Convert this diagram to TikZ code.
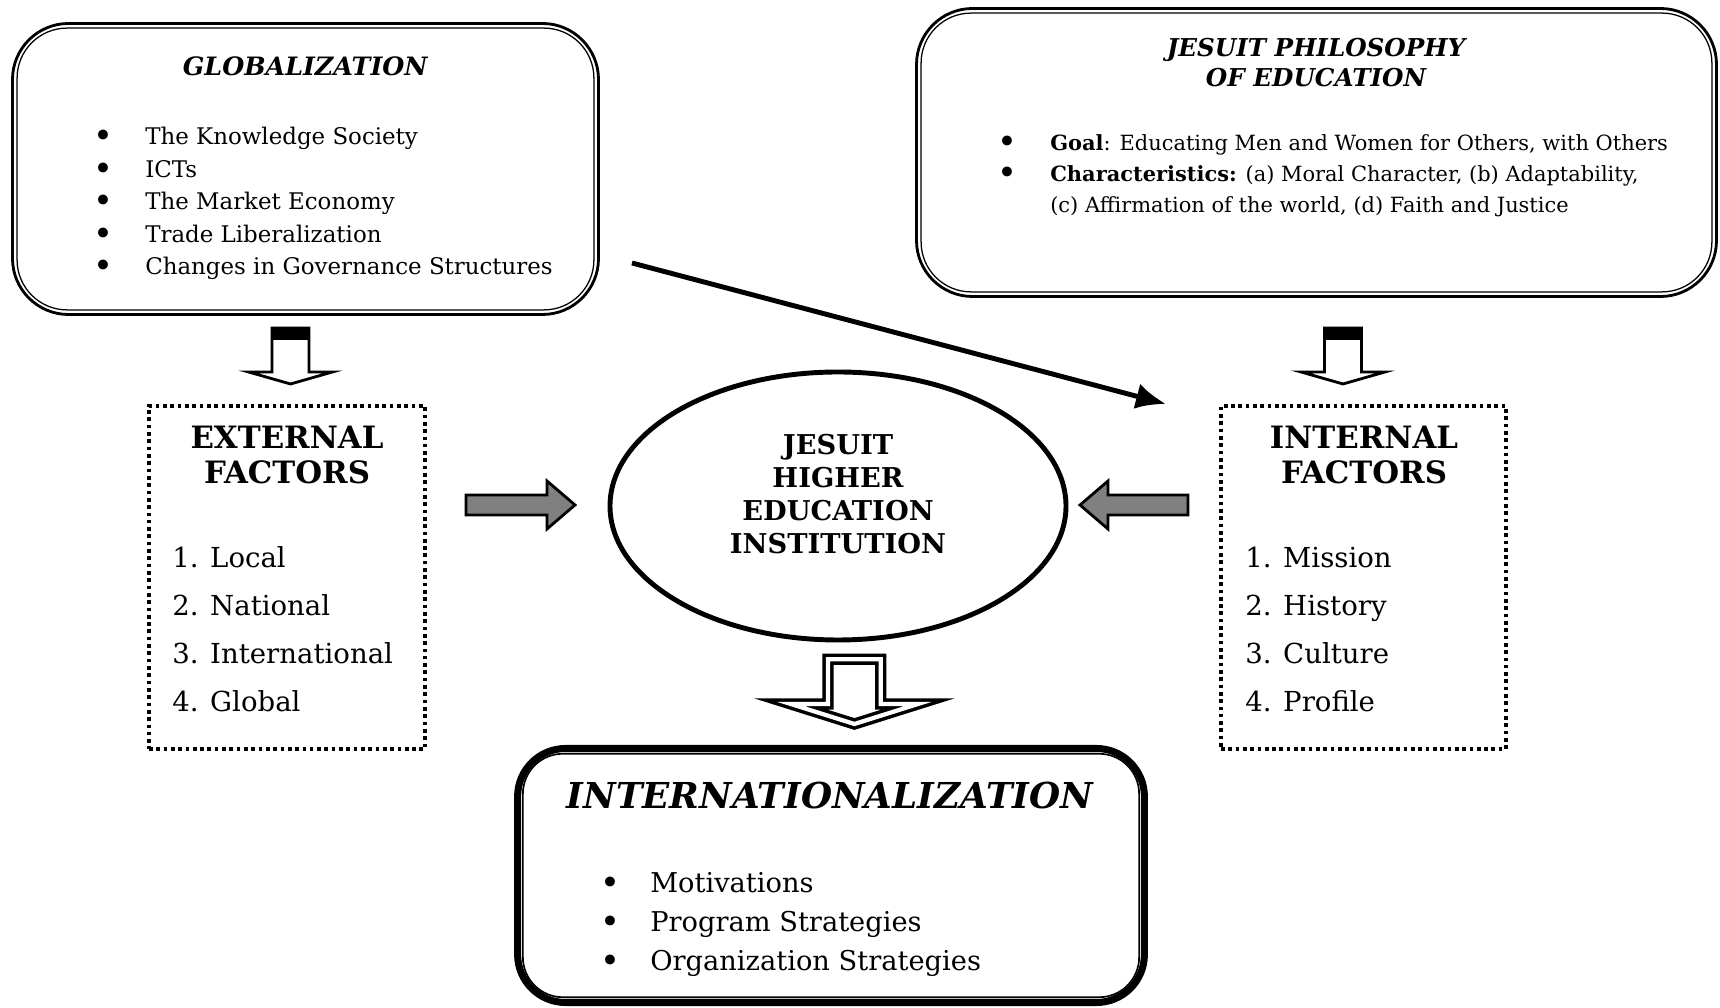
\documentclass[tikz,border=0pt]{standalone}
\usepackage{fontspec}
\setmainfont{DejaVu Serif}
\usetikzlibrary{shapes.geometric,arrows.meta}

\begin{document}
\begin{tikzpicture}[
    roundbox/.style={draw, line width=2pt, rounded corners=1.4cm, inner sep=0pt},
    dotbox/.style={draw, line width=2.6pt, dash pattern=on 2.6pt off 2.6pt, inner sep=0pt},
    grayarrow/.style={draw, line width=2pt, fill=gray, line join=miter},
    hollowarrow/.style={draw, line width=2pt, fill=white, line join=miter},
    txt/.style={anchor=west, inner sep=0pt, yshift=-0.1cm, execute at begin node=\strut},
    dot/.style={inner sep=0pt, yshift=-0.1cm, font=\fontsize{24}{24}\selectfont},
    bodyfont/.style={font=\fontsize{16.3}{20}\selectfont},
    smallfont/.style={font=\fontsize{14.9}{18}\selectfont},
    factorfont/.style={font=\fontsize{19.6}{24}\selectfont},
    listfont/.style={font=\fontsize{19.4}{24}\selectfont}
]
    \useasboundingbox (0,0) rectangle (43,25.2);

    % ================= GLOBALIZATION =================
    \node[roundbox, minimum width=14.65cm, minimum height=7.275cm] (glob) at (7.6375,20.975) {};
    \draw[line width=0.9pt, rounded corners=1.25cm]
        ([shift={(0.15,-0.15)}]glob.north west) rectangle ([shift={(-0.15,0.15)}]glob.south east);
    \node[font=\fontsize{18}{22}\selectfont\bfseries\itshape] (globt) at (7.63,23.55) {GLOBALIZATION};
    \foreach \item [count=\i] in {The Knowledge Society, ICTs, The Market Economy,
        Trade Liberalization, Changes in Governance Structures} {
        \node[dot] (gb\i) at (2.575,22.6375-0.8125*\i) {\textbullet};
        \node[txt, bodyfont] (gi\i) at (3.625,22.6375-0.8125*\i) {\item};
    }

    % ================= JESUIT PHILOSOPHY =================
    \node[roundbox, minimum width=20cm, minimum height=7.2cm] (jphil) at (32.9125,21.3875) {};
    \draw[line width=0.9pt, rounded corners=1.25cm]
        ([shift={(0.15,-0.15)}]jphil.north west) rectangle ([shift={(-0.15,0.15)}]jphil.south east);
    \node[font=\fontsize{17.5}{21.3}\selectfont\bfseries\itshape, align=center] (jphilt) at (32.9,23.625)
        {JESUIT PHILOSOPHY\\OF EDUCATION};
    \node[dot] (jb1) at (25.175,21.675) {\textbullet};
    \node[dot] (jb2) at (25.175,20.9) {\textbullet};
    \node[txt, smallfont] (jgoal) at (26.25,21.675)
        {\textbf{Goal}: Educating Men and Women for Others, with Others};
    \node[txt, smallfont] (jchar) at (26.25,20.9)
        {\textbf{Characteristics:} (a) Moral Character, (b) Adaptability,};
    \node[txt, smallfont] (jchar2) at (26.25,20.125)
        {(c) Affirmation of the world, (d) Faith and Justice};

    % hollow arrows below the two top boxes
    \foreach \cx in {7.2625,33.575} {
        \draw[hollowarrow] (\cx-0.4625,17.0) -- (\cx-0.4625,15.9) -- (\cx-1.05,15.9)
            -- (\cx,15.6) -- (\cx+1.05,15.9) -- (\cx+0.4625,15.9) -- (\cx+0.4625,17.0) -- cycle;
        \fill (\cx-0.4625,17.025) rectangle (\cx+0.4625,16.7);
    }

    % ================= FACTORS =================
    \node[dotbox, minimum width=6.9cm, minimum height=8.575cm] (extf) at (7.175,10.7625) {};
    \node[font=\fontsize{21.9}{25.6}\selectfont\bfseries, align=center] (extt) at (7.175,13.825)
        {EXTERNAL\\FACTORS};
    \foreach \item [count=\i] in {1. Local, 2. National, 3. International, 4. Global} {
        \node[txt, factorfont] (ei\i) at (4.3,12.475-1.2*\i) {\item};
    }

    \node[dotbox, minimum width=7.125cm, minimum height=8.575cm] (intf) at (34.0875,10.7625) {};
    \node[font=\fontsize{21.9}{25.6}\selectfont\bfseries, align=center] (intt) at (34.1,13.825)
        {INTERNAL\\FACTORS};
    \foreach \item [count=\i] in {1. Mission, 2. History, 3. Culture, 4. Profile} {
        \node[txt, factorfont] (ii\i) at (31.125,12.475-1.2*\i) {\item};
    }

    % ================= INSTITUTION =================
    \node[ellipse, draw, line width=3.5pt, minimum width=11.4cm, minimum height=6.7cm] (jhei) at (20.95,12.55) {};
    \node[font=\fontsize{19.4}{23.4}\selectfont\bfseries, align=center] (jheit) at (20.95,12.84)
        {JESUIT\\HIGHER\\EDUCATION\\INSTITUTION};

    % gray arrows into the ellipse
    \draw[grayarrow] (11.65,12.325) -- (13.675,12.325) -- (13.675,11.975) -- (14.375,12.575)
        -- (13.675,13.175) -- (13.675,12.825) -- (11.65,12.825) -- cycle;
    \draw[grayarrow] (29.7,12.325) -- (27.7,12.325) -- (27.7,11.975) -- (27.0,12.575)
        -- (27.7,13.175) -- (27.7,12.825) -- (29.7,12.825) -- cycle;

    % diagonal arrow
    \coordinate (dstart) at (15.8,18.625);
    \coordinate (dend) at (29.15,15.1);
    \draw[line width=3.5pt, -{Latex[length=0.75cm,width=0.65cm]}] (dstart) -- (dend);

    % double outline arrow down
    \draw[line width=2.5pt, double=white, double distance=3pt, line join=miter]
        (20.7,8.72) -- (22.02,8.72) -- (22.02,7.6) -- (22.95,7.6) -- (21.36,7.1)
        -- (19.77,7.6) -- (20.7,7.6) -- cycle;

    % ================= INTERNATIONALIZATION =================
    \node[draw, line width=5pt, rounded corners=1.2cm, inner sep=0pt,
        minimum width=15.67cm, minimum height=6.35cm] (intl) at (20.775,3.3125) {};
    \draw[line width=1.2pt, rounded corners=1.0cm]
        ([shift={(0.22,-0.22)}]intl.north west) rectangle ([shift={(-0.22,0.22)}]intl.south east);
    \node[font=\fontsize{25.4}{30}\selectfont\bfseries\itshape] (intlt) at (20.75,5.3) {INTERNATIONALIZATION};
    \foreach \item [count=\i] in {Motivations, Program Strategies, Organization Strategies} {
        \node[dot] (ib\i) at (15.25,4.125-0.975*\i) {\textbullet};
        \node[txt, listfont] (it\i) at (16.25,4.125-0.975*\i) {\item};
    }
\end{tikzpicture}
\end{document}
